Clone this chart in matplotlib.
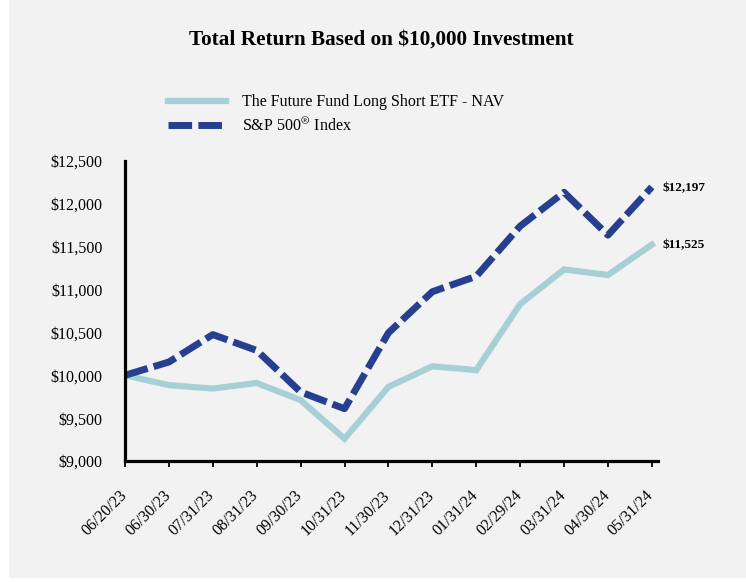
import matplotlib.pyplot as plt
from matplotlib.patches import Rectangle
from matplotlib.ticker import FuncFormatter
from matplotlib.transforms import ScaledTranslation

dates = ["06/20/23", "06/30/23", "07/31/23", "08/31/23", "09/30/23", "10/31/23",
         "11/30/23", "12/31/23", "01/31/24", "02/29/24", "03/31/24", "04/30/24", "05/31/24"]
fund = [10000, 9885, 9845, 9910, 9710, 9260, 9865, 10105, 10060, 10830, 11235, 11170, 11525]
sp500 = [10000, 10155, 10475, 10290, 9805, 9610, 10495, 10975, 11155, 11740, 12135, 11635, 12197]
fund_label = "The Future Fund Long Short ETF - NAV"
sp_label = "S&P 500$^{\\circledR}$ Index"
end_labels = ["$11,525", "$12,197"]

fund_color = "#a7d0d6"
sp_color = "#26408f"
bg = "#f2f2f2"

plt.rcParams['font.family'] = ['Liberation Serif', 'DejaVu Serif']
plt.rcParams['mathtext.fontset'] = 'stix'

W, H = 746, 582
fig = plt.figure(figsize=(W / 100, H / 100), dpi=100)
fig.patch.set_facecolor("white")
fig.patches.append(Rectangle((9 / W, 4 / H), 1, 1, transform=fig.transFigure,
                             facecolor=bg, edgecolor="none", zorder=-10))

ax = fig.add_axes([125 / W, 1 - 461 / H, 533 / W, 300 / H])
ax.set_facecolor("none")

x = list(range(len(dates)))
ax.plot(x, fund, color=fund_color, lw=4.5, solid_joinstyle="miter", label=fund_label)
ax.plot(x, sp500, color=sp_color, lw=5, dashes=(3.4, 0.9), label=sp_label)

ax.set_xlim(0, 12.14)
ax.set_ylim(9000, 12500)
ax.set_yticks(range(9000, 12501, 500))
ax.yaxis.set_major_formatter(FuncFormatter(lambda v, p: "${:,.0f}".format(v)))
ax.set_xticks(x)
ax.set_xticklabels(dates, rotation=45, ha="right", fontsize=11.5)

for s in ["top", "right"]:
    ax.spines[s].set_visible(False)
for s in ["left", "bottom"]:
    ax.spines[s].set_linewidth(2.3)
ax.tick_params(axis="y", length=0, pad=16, labelsize=11.5)
ax.tick_params(axis="x", length=4, width=1.3, pad=15)
shift = ScaledTranslation(5 / 100, 0, fig.dpi_scale_trans)
for lab in ax.get_xticklabels():
    lab.set_transform(lab.get_transform() + shift)

ax.annotate(end_labels[0], (x[-1], fund[-1]), xytext=(11, -1), textcoords="offset pixels",
            fontsize=9.5, fontweight="bold", va="center")
ax.annotate(end_labels[1], (x[-1], sp500[-1]), xytext=(11, -1), textcoords="offset pixels",
            fontsize=9.5, fontweight="bold", va="center")

fig.text(381 / W, 1 - 40 / H, "Total Return Based on $10,000 Investment",
         ha="center", va="center", fontsize=15.3, fontweight="bold")

fig.legend(loc="upper left", bbox_to_anchor=(154 / W, 1 - 80 / H), frameon=False,
           fontsize=11.5, handlelength=3.6, handletextpad=1.0, labelspacing=0.45)

fig.savefig("out.png", dpi=100)
